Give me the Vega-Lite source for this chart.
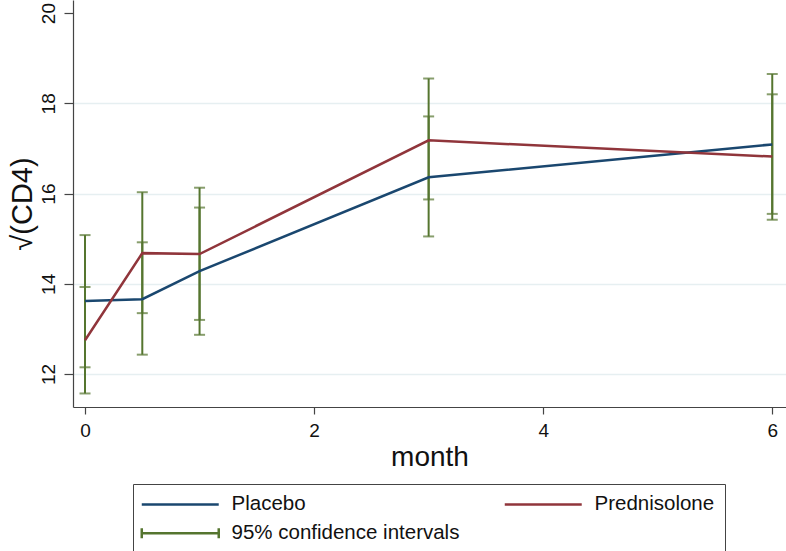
{
  "$schema": "https://vega.github.io/schema/vega-lite/v6.json",
  "width": 713,
  "height": 407,
  "autosize": {"type": "none"},
  "padding": {"left": 73, "top": 0, "right": 0, "bottom": 144},
  "background": "white",
  "config": {
    "view": {"stroke": null},
    "font": "Liberation Sans",
    "axis": {
      "domainColor": "#444",
      "tickColor": "#444",
      "domainWidth": 1.2,
      "tickWidth": 1.2,
      "labelColor": "#111",
      "titleColor": "#111",
      "labelFont": "Liberation Sans",
      "titleFont": "Liberation Sans",
      "titleFontWeight": "normal"
    }
  },
  "datasets": {
    "means": [
      {"month": 0, "group": "Placebo", "value": 13.62},
      {"month": 0.5, "group": "Placebo", "value": 13.66},
      {"month": 1, "group": "Placebo", "value": 14.28},
      {"month": 3, "group": "Placebo", "value": 16.36},
      {"month": 6, "group": "Placebo", "value": 17.09},
      {"month": 0, "group": "Prednisolone", "value": 12.75},
      {"month": 0.5, "group": "Prednisolone", "value": 14.68},
      {"month": 1, "group": "Prednisolone", "value": 14.66},
      {"month": 3, "group": "Prednisolone", "value": 17.18},
      {"month": 6, "group": "Prednisolone", "value": 16.82}
    ],
    "ci": [
      {"month": 0, "group": "Placebo", "lo": 12.15, "hi": 15.08},
      {"month": 0.5, "group": "Placebo", "lo": 12.43, "hi": 14.92},
      {"month": 1, "group": "Placebo", "lo": 12.87, "hi": 15.69},
      {"month": 3, "group": "Placebo", "lo": 15.05, "hi": 17.71},
      {"month": 6, "group": "Placebo", "lo": 15.55, "hi": 18.65},
      {"month": 0, "group": "Prednisolone", "lo": 11.57, "hi": 13.93},
      {"month": 0.5, "group": "Prednisolone", "lo": 13.35, "hi": 16.03},
      {"month": 1, "group": "Prednisolone", "lo": 13.2, "hi": 16.13},
      {"month": 3, "group": "Prednisolone", "lo": 15.87, "hi": 18.55},
      {"month": 6, "group": "Prednisolone", "lo": 15.42, "hi": 18.2}
    ]
  },
  "layer": [
    {
      "data": {"name": "ci"},
      "mark": {"type": "rule", "strokeWidth": 2},
      "encoding": {
        "x": {
          "field": "month", "type": "quantitative",
          "scale": {"domain": [-0.105, 6.12], "nice": false, "zero": false},
          "axis": {
            "values": [0, 2, 4, 6], "format": "d", "grid": false, "tickSize": 7,
            "labelFontSize": 19, "labelPadding": 7,
            "title": "month", "titleFontSize": 28, "titlePadding": 3
          }
        },
        "y": {
          "field": "lo", "type": "quantitative",
          "scale": {"domain": [11.27, 20.29], "nice": false, "zero": false},
          "axis": {
            "values": [12, 14, 16, 18, 20], "tickSize": 9,
            "grid": true, "gridColor": "#e6eff1", "gridWidth": 1.5,
            "gridOpacity": {"condition": {"test": "datum.value == 20", "value": 0}, "value": 1},
            "labelAngle": -90, "labelAlign": "center", "labelBaseline": "bottom",
            "labelFontSize": 19, "labelPadding": 6,
            "title": "√(CD4)", "titleFontSize": 29, "titlePadding": 2
          }
        },
        "y2": {"field": "hi"},
        "color": {
          "datum": "95% confidence intervals",
          "title": null,
          "scale": {
            "domain": ["Placebo", "Prednisolone", "95% confidence intervals"],
            "range": ["#1a476f", "#90353b", "#55752f"]
          },
          "legend": {
            "title": null,
            "orient": "none",
            "legendX": 60,
            "legendY": 484,
            "direction": "horizontal",
            "columns": 2,
            "gridAlign": "each",
            "columnPadding": 39,
            "rowPadding": 8,
            "padding": 10,
            "strokeColor": "#444",
            "fillColor": "white",
            "labelFontSize": 20.5,
            "labelLimit": 0,
            "labelColor": "#111",
            "labelFont": "Liberation Sans",
            "symbolSize": 237,
            "symbolOffset": 27,
            "labelOffset": 41,
            "symbolStrokeWidth": 2.5,
            "symbolFillColor": "transparent",
            "symbolType": "M-5,0L5,0",
            "encode": {
              "symbols": {
                "update": {
                  "shape": {"signal": "datum.value === '95% confidence intervals' ? 'M-5,0L5,0M-5,-0.65L-5,0.65M5,-0.65L5,0.65' : 'M-5,0L5,0'"},
                  "stroke": {"scale": "color", "field": "value"},
                  "fill": {"value": "transparent"},
                  "strokeWidth": {"value": 2.5}
                }
              }
            }
          }
        }
      }
    },
    {
      "data": {"name": "ci"},
      "mark": {"type": "tick", "orient": "horizontal", "size": 11, "thickness": 2},
      "encoding": {
        "x": {"field": "month", "type": "quantitative"},
        "y": {"field": "lo", "type": "quantitative"},
        "color": {"datum": "95% confidence intervals", "title": null}
      }
    },
    {
      "data": {"name": "ci"},
      "mark": {"type": "tick", "orient": "horizontal", "size": 11, "thickness": 2},
      "encoding": {
        "x": {"field": "month", "type": "quantitative"},
        "y": {"field": "hi", "type": "quantitative"},
        "color": {"datum": "95% confidence intervals", "title": null}
      }
    },
    {
      "data": {"name": "means"},
      "mark": {"type": "line", "strokeWidth": 2.5},
      "encoding": {
        "x": {"field": "month", "type": "quantitative"},
        "y": {"field": "value", "type": "quantitative"},
        "color": {"field": "group", "type": "nominal", "title": null}
      }
    }
  ]
}
